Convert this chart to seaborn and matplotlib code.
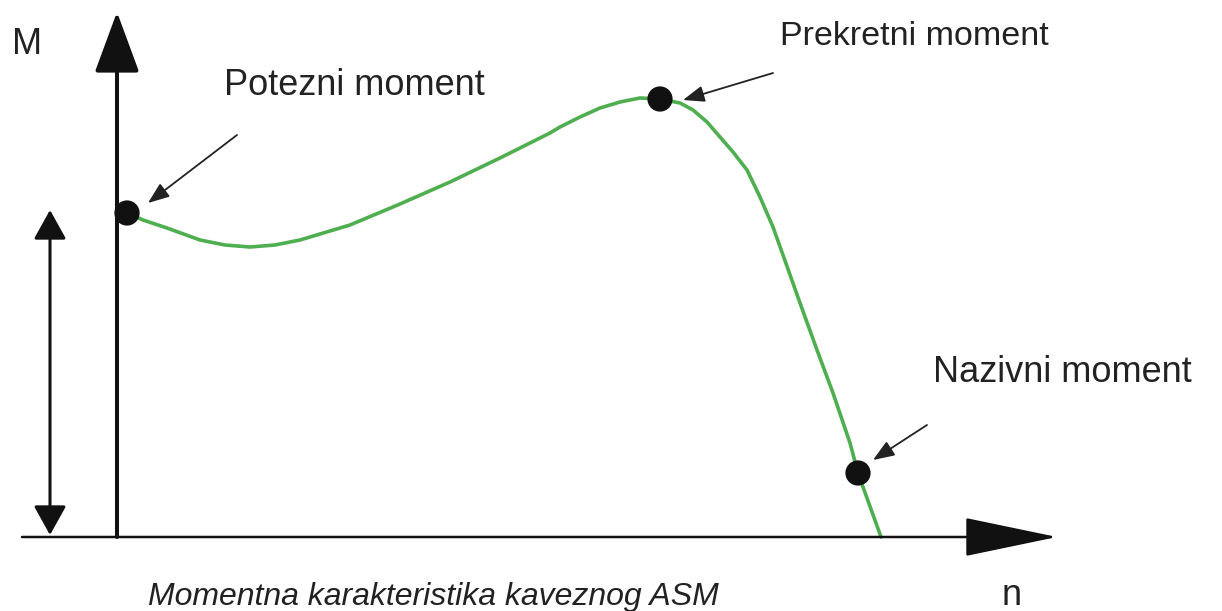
import matplotlib
matplotlib.use("Agg")
import matplotlib.pyplot as plt
import seaborn as sns
import pandas as pd

# torque curve (n = speed, M = torque, arbitrary units)
n_curve = [10, 26, 50, 83, 108, 133, 158, 183, 233, 283, 333, 383, 433, 443,
           463, 483, 503, 523, 543, 563, 576, 590, 603, 616, 630, 643, 656,
           666, 683, 700, 716, 733, 741, 764]
m_curve = [324, 317, 309, 297, 292, 290, 292, 297, 312, 333, 355, 379, 404, 410,
           420, 429, 435, 439, 438, 434, 427, 415, 400, 385, 367, 340, 310,
           282, 234, 187, 144, 94, 64, 0]

# marked points: potezni, prekretni, nazivni
point_labels = ["Potezni moment", "Prekretni moment", "Nazivni moment"]
point_n = [10, 543, 741]
point_m = [324, 438, 64]

# label text anchors and pointer arrows (start -> tip)
label_n = [107, 663, 816]
label_m = [442, 492, 155]
pointer_from_n = [120, 656, 810]
pointer_from_m = [402, 464, 112]
pointer_to_n = [31, 566, 756]
pointer_to_m = [334, 437, 77]

caption = "Momentna karakteristika kaveznog ASM"

sns.set_theme(style="white")
plt.rcParams["font.family"] = ["Liberation Sans", "DejaVu Sans"]

curve = pd.DataFrame({"n": n_curve, "M": m_curve})
points = pd.DataFrame({"n": point_n, "M": point_m})

fig = plt.figure(figsize=(12.22, 6.11), dpi=100)
ax = fig.add_axes([0, 0, 1, 1])
ax.set_xlim(-117, 1105)
ax.set_ylim(-74, 537)
ax.axis("off")

axis_color = "#111111"
text_color = "#222222"

# axes drawn as arrows
ax.annotate("", xy=(0, 525), xytext=(0, 0),
            arrowprops=dict(arrowstyle="-|>,head_length=38,head_width=14",
                            mutation_scale=1, lw=2.9, color=axis_color,
                            shrinkA=0, shrinkB=0))
ax.annotate("", xy=(940, 0), xytext=(-95, 0),
            arrowprops=dict(arrowstyle="-|>,head_length=60,head_width=12.5",
                            mutation_scale=1, lw=1.8, color=axis_color,
                            shrinkA=0, shrinkB=0))
# range arrow on the left
ax.annotate("", xy=(-67, 327), xytext=(-67, 2),
            arrowprops=dict(arrowstyle="<|-|>,head_length=18,head_width=10",
                            mutation_scale=1, lw=2.2, color=axis_color,
                            shrinkA=0, shrinkB=0))

sns.lineplot(data=curve, x="n", y="M", sort=False, color="#4fae4f", lw=2.6,
             solid_joinstyle="round", solid_capstyle="round", ax=ax)
sns.scatterplot(data=points, x="n", y="M", color=axis_color, s=330,
                marker="o", edgecolor="none", zorder=5, ax=ax)

label_sizes = [26, 24.5, 26]
for i, lab in enumerate(point_labels):
    ax.text(label_n[i], label_m[i], lab, fontsize=label_sizes[i], color=text_color,
            ha="left", va="baseline")
    ax.annotate("", xy=(pointer_to_n[i], pointer_to_m[i]),
                xytext=(pointer_from_n[i], pointer_from_m[i]),
                arrowprops=dict(arrowstyle="-|>,head_length=13,head_width=5",
                                mutation_scale=1, lw=1.3, color=text_color,
                                shrinkA=0, shrinkB=0))

ax.text(-90, 492, "M", fontsize=26, color=text_color, ha="center", va="center")
ax.text(895, -68, "n", fontsize=26, color=text_color, ha="center", va="baseline")
ax.text(31, -68, caption, fontsize=23, style="italic", color=text_color,
        ha="left", va="baseline")

ax.set_xlabel("")
ax.set_ylabel("")
fig.savefig("out.png", dpi=100, facecolor="white")
